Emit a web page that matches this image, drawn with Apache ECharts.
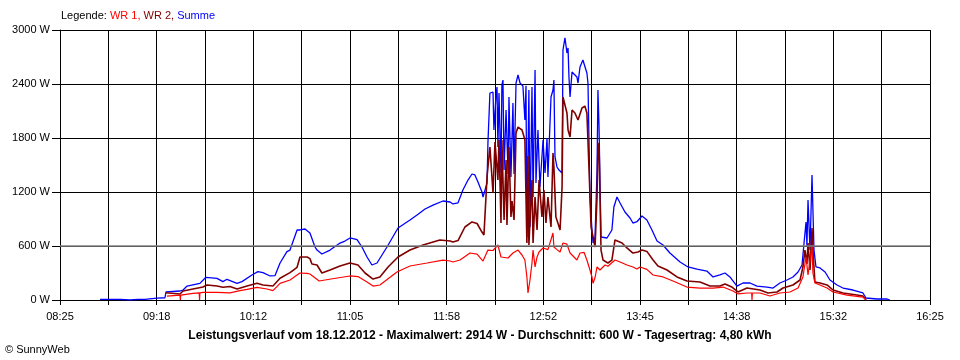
<!DOCTYPE html>
<html><head><meta charset="utf-8">
<script src="https://cdn.jsdelivr.net/npm/echarts@6/dist/echarts.min.js"></script>
<style>html,body{margin:0;padding:0;background:#fff}#c{width:960px;height:360px}</style>
</head><body><div id="c"></div>
<script>
// x values: minutes after 08:25 ; y values: Watt
const startMinuteOfDay = 505; // 08:25
const spanMinutes = 480;      // until 16:25
const tickLabels = ['08:25','09:18','10:12','11:05','11:58','12:52','13:45','14:38','15:32','16:25'];
const seriesNames = ['WR 1', 'WR 2', 'Summe'];
const reportDate = '18.12.2012';
const maxW = 2914;
const averageW = 600;
const dailyKWh = '4,80';

const summe = [[22.1,8],[33.1,8],[38.6,0],[39.7,8],[43,8],[44,0],[46.9,8],[53.5,20],[57.9,25],[58.5,90],[66.2,100],[67.9,111],[70.1,155],[77.2,185],[80.5,252],[86.6,241],[89.9,204],[92.1,230],[97.7,185],[100.4,204],[105.9,278],[109.2,315],[112,305],[115.9,267],[118.6,270],[121.4,411],[125.2,537],[126.9,555],[130.8,778],[132.4,778],[135.2,789],[136.3,770],[137.9,744],[139,722],[140.7,589],[141.8,555],[144.5,511],[149,555],[154.5,633],[157.2,655],[160,689],[161.1,689],[163.9,670],[166.6,589],[169.4,478],[172.1,389],[174.9,411],[180.4,589],[186.5,800],[193.1,889],[197,944],[201.4,1011],[205.8,1055],[211.3,1100],[215.2,1089],[216.8,1067],[219.6,1080],[222.3,1222],[225.1,1333],[227.3,1400],[228.9,1390],[230.6,1311],[232.8,1200],[233.4,1144],[233.9,1160],[235.6,1300],[236.1,1744],[237.2,2300],[238.9,2311],[239.4,1889],[240.5,2255],[241.1,2367],[241.6,1700],[242.2,2300],[243.3,1411],[243.8,2389],[244.4,2444],[245,1444],[246.1,2111],[247.2,1400],[247.7,2255],[248.8,1367],[249.9,2189],[250.5,1400],[251.6,2411],[252.7,2500],[253.8,2411],[255.4,2378],[256.5,2000],[257.1,2380],[257.6,700],[258.7,2333],[259.3,811],[260.4,2367],[261,1144],[262.1,2555],[262.6,1300],[263.7,1889],[264.8,1256],[266.5,1778],[267.6,1411],[268.7,1800],[269.2,1367],[270.9,2255],[272,2333],[272.5,2444],[273.1,1589],[274.2,1478],[275.3,1444],[277,1411],[277.5,2778],[278.6,2914],[279.7,2744],[280.3,2800],[280.8,2478],[281.4,2255],[282.5,2533],[283,2540],[285.2,2478],[285.8,2411],[286.9,2589],[288.5,2667],[289.6,2660],[290.7,2522],[291.3,2411],[292.4,1144],[293.5,778],[294.1,633],[295.2,700],[296.3,1444],[296.8,2333],[297.4,1922],[298.5,700],[299.6,700],[301.8,689],[302.9,667],[304.5,778],[305.6,1033],[307.3,1144],[309,1078],[311.7,978],[314.5,911],[316.1,855],[318.3,870],[321.1,933],[323.8,889],[326.6,778],[329.4,655],[332.7,611],[336.5,522],[342.1,422],[346.5,367],[351.4,344],[356.9,322],[360.3,256],[364.1,278],[366.9,300],[369.6,256],[373.5,155],[376.8,189],[380.7,189],[384.5,155],[390.1,144],[393.4,133],[397.2,189],[401.1,222],[404.4,256],[407.2,311],[409.4,389],[410.5,633],[411.6,867],[412.1,600],[412.7,1111],[413.8,555],[414.9,1389],[415.4,1380],[416,555],[417.1,367],[419.3,356],[422.1,311],[424.8,222],[428.7,167],[432,133],[437.5,111],[443,78],[444.7,22],[450.7,11],[456.3,11],[457.9,0]];

const wr2 = [[58.5,81],[66.2,67],[67.9,100],[73.4,122],[78.9,144],[81.1,167],[86.6,155],[89.9,141],[93.8,150],[97.7,122],[103.2,155],[108.7,185],[112,167],[117.5,155],[121.4,241],[126.9,304],[130.8,363],[132.4,478],[136.3,478],[137.9,460],[139,400],[141.8,389],[144.5,300],[149,333],[154.5,378],[160,411],[164.4,389],[168.3,300],[172.7,233],[176.5,256],[181,367],[186.5,478],[193.1,555],[200.3,611],[209.6,667],[215.2,655],[216.8,644],[219.6,660],[223.4,811],[227.3,867],[230.1,850],[232.8,755],[233.9,722],[235,740],[235.6,1367],[237.2,1700],[238.3,1700],[238.9,1189],[240,1756],[241.1,1778],[241.6,1333],[242.2,1778],[243.3,855],[243.8,1778],[245,889],[246.1,1555],[246.6,833],[247.7,1700],[248.8,922],[249.4,1100],[250.5,889],[251.6,1855],[252.7,1922],[254.9,1889],[256,1880],[256.5,1780],[257.6,633],[258.2,1600],[258.7,611],[260.4,1333],[261,633],[262.1,1144],[263.2,778],[264.3,1333],[265.9,922],[267,1222],[268.1,855],[269.2,1144],[270.9,811],[272,1633],[272.5,1478],[273.6,922],[274.7,855],[275.9,778],[277,1256],[277.5,2255],[278.6,2250],[279.7,2078],[280.3,1889],[281.4,1811],[282.5,2111],[284.1,2078],[285.8,2000],[288,2133],[289.6,2155],[290.7,2078],[291.9,1444],[293,811],[294.1,700],[295.2,589],[296.3,1144],[296.8,1744],[297.4,1700],[298.5,555],[299.6,444],[302.3,411],[304.5,444],[306.2,667],[307.3,689],[310.1,633],[312.8,578],[316.1,522],[318.9,533],[321.1,555],[323.8,540],[327.2,444],[329.9,378],[334.9,333],[340.4,256],[345.9,211],[353.1,200],[358.6,155],[364.1,155],[366.9,178],[370.7,144],[374.1,89],[379,133],[386.2,111],[390.6,78],[395.6,89],[398.9,133],[404.4,167],[408.3,222],[409.9,367],[411,555],[412.1,400],[412.7,633],[413.8,333],[414.9,800],[415.4,555],[416.5,200],[419.3,189],[423.2,167],[426.5,111],[432,78],[439.7,55],[443,44],[444.7,0]];

const wr1 = [[59,44],[66.2,55],[66.4,0],[66.6,55],[73.4,74],[76.8,80],[77,0],[77.2,80],[78.9,85],[86.6,85],[93.8,80],[99.3,104],[103.2,118],[108.7,141],[114.2,122],[117.5,104],[121.4,185],[126.9,222],[130.8,278],[132.4,300],[136.3,296],[137.9,289],[143,211],[149.5,233],[160,267],[164.4,260],[169.4,200],[172.7,155],[176.5,167],[185.9,311],[193.1,378],[202.5,411],[211.3,444],[215.2,433],[216.8,422],[220.7,444],[226.2,522],[230.1,510],[233.4,433],[236.1,555],[238.9,550],[241.6,611],[243.3,478],[244.4,500],[247.2,467],[249.9,522],[252.7,555],[254.9,500],[256.5,444],[257.6,256],[258.2,78],[259.3,222],[260.4,411],[261,555],[262.1,367],[263.2,478],[264.3,533],[264.8,522],[266.5,578],[269.2,560],[272,744],[272.5,589],[274.2,560],[275.9,533],[277.5,633],[279.7,620],[281.4,522],[285.2,444],[286.9,522],[289.1,530],[290.7,444],[292.4,333],[293.5,256],[294.1,185],[295.2,250],[296.3,367],[296.8,380],[297.9,333],[300.7,389],[302.3,375],[303.4,367],[306.2,444],[309,422],[312.8,389],[316.1,367],[318.3,344],[320,367],[321.1,367],[323.8,340],[327.2,278],[332.7,256],[338.2,211],[345.9,144],[353.1,133],[360.3,133],[365.8,144],[371.3,100],[374.1,67],[379,78],[381.6,78],[381.8,0],[382,78],[386.2,78],[391.7,44],[397.2,78],[402.7,89],[407.2,133],[409.9,256],[411.6,478],[412.7,278],[413.8,444],[414.9,589],[415.4,300],[416.5,189],[419.3,167],[423.2,133],[426.5,89],[434.2,55],[443,33],[444.7,0]];

const tickStep = spanMinutes / 18;
const font = 'Liberation Sans';

const chart = echarts.init(document.getElementById('c'), null, {renderer: 'canvas'});
chart.setOption({
  animation: false,
  backgroundColor: '#fff',
  textStyle: {fontFamily: font},
  title: [
    {
      text: '{k|Legende: }{a|' + seriesNames[0] + ', }{b|' + seriesNames[1] + ', }{c|' + seriesNames[2] + '}',
      left: 61, top: 10, padding: 0,
      textStyle: {fontSize: 11, fontWeight: 'normal', fontFamily: font,
        rich: {
          k: {color: '#000', fontSize: 11, fontFamily: font},
          a: {color: '#ff0000', fontSize: 11, fontFamily: font},
          b: {color: '#800000', fontSize: 11, fontFamily: font},
          c: {color: '#0000ff', fontSize: 11, fontFamily: font}
        }}
    },
    {
      text: 'Leistungsverlauf vom ' + reportDate + ' - Maximalwert: ' + maxW + ' W - Durchschnitt: ' + averageW + ' W - Tagesertrag: ' + dailyKWh + ' kWh',
      left: 'center', top: 330, padding: 0,
      textStyle: {fontSize: 12, fontWeight: 'bold', color: '#000', fontFamily: font}
    },
    {
      text: '\u00a9 SunnyWeb',
      left: 5, top: 344, padding: 0,
      textStyle: {fontSize: 11, fontWeight: 'normal', color: '#000', fontFamily: font}
    }
  ],
  grid: {left: 60, right: 30, top: 30, bottom: 60},
  xAxis: {
    type: 'value', min: 0, max: spanMinutes, interval: tickStep,
    axisLine: {show: true, lineStyle: {color: '#000', width: 1}},
    axisTick: {show: true, length: 5, lineStyle: {color: '#000'}},
    axisLabel: {
      color: '#000', fontSize: 11, fontFamily: font, margin: 11,
      showMinLabel: true, showMaxLabel: true,
      formatter: function (v) {
        const idx = Math.round(v / tickStep);
        return idx % 2 === 0 ? tickLabels[idx / 2] : '';
      }
    },
    splitLine: {show: true, lineStyle: {color: '#000', width: 1}}
  },
  yAxis: {
    type: 'value', min: 0, max: 3000, interval: 600,
    axisLine: {show: true, lineStyle: {color: '#000', width: 1}},
    axisTick: {show: true, length: 8, lineStyle: {color: '#000'}},
    axisLabel: {color: '#000', fontSize: 11, fontFamily: font, margin: 10,
      formatter: function (v) { return String(v) + ' W'; }},
    splitLine: {show: true, lineStyle: {color: '#000', width: 1}}
  },
  series: [
    {
      name: seriesNames[2], type: 'line', data: summe, showSymbol: false, symbol: 'none',
      lineStyle: {color: '#0000ff', width: 1.3}, itemStyle: {color: '#0000ff'},
      markLine: {silent: true, symbol: 'none', label: {show: false},
        lineStyle: {color: '#808080', type: 'solid', width: 1.5},
        data: [{yAxis: averageW}]}
    },
    {
      name: seriesNames[1], type: 'line', data: wr2, showSymbol: false, symbol: 'none',
      lineStyle: {color: '#800000', width: 1.6}, itemStyle: {color: '#800000'}
    },
    {
      name: seriesNames[0], type: 'line', data: wr1, showSymbol: false, symbol: 'none',
      lineStyle: {color: '#ff0000', width: 1.2}, itemStyle: {color: '#ff0000'}
    }
  ]
});
</script>
</body></html>
